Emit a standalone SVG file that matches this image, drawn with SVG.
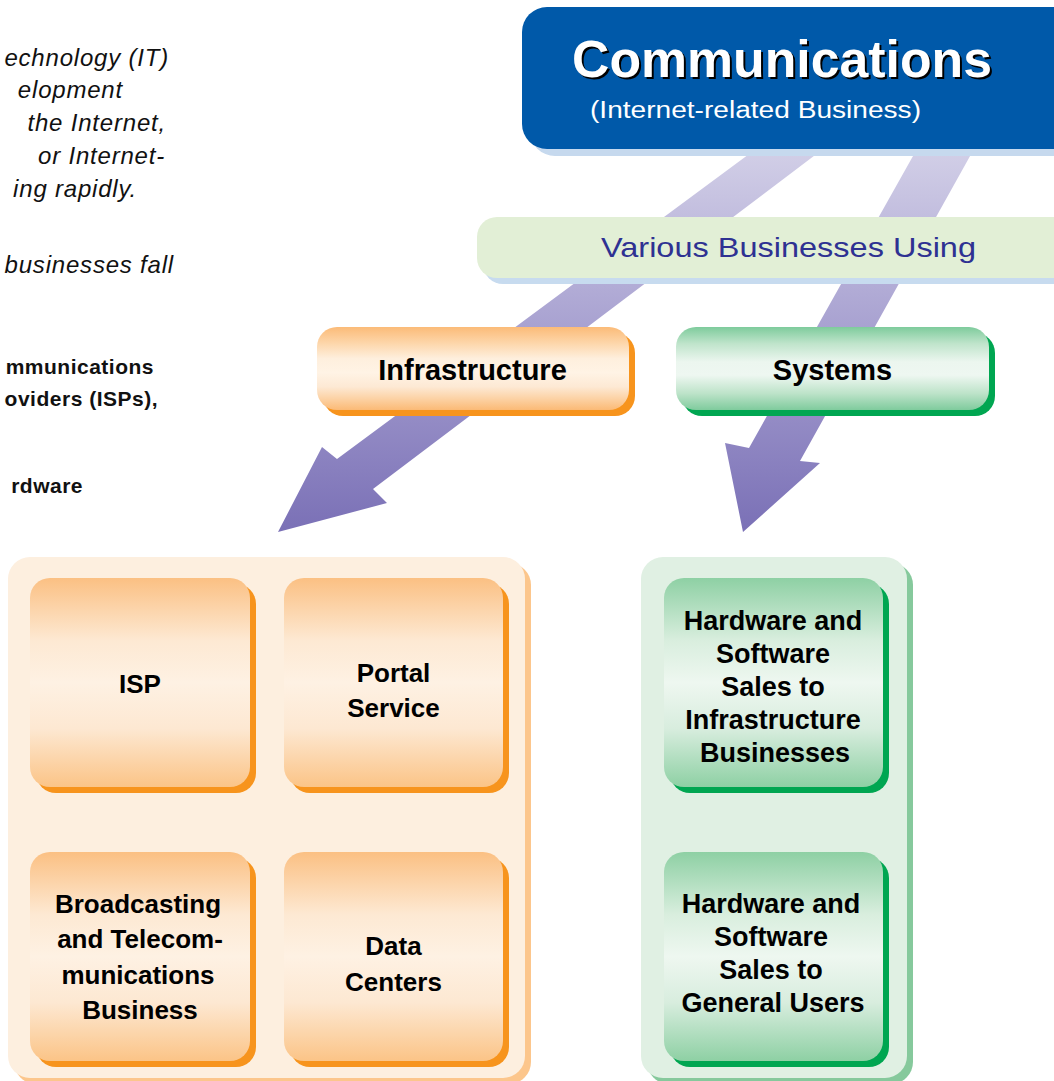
<svg xmlns="http://www.w3.org/2000/svg" width="1054" height="1081" viewBox="0 0 1054 1081">
  <defs>
    <linearGradient id="arrowFill" gradientUnits="userSpaceOnUse" x1="0" y1="150" x2="0" y2="532">
      <stop offset="0" stop-color="#d2cfe7"/>
      <stop offset="0.5" stop-color="#a59ecf"/>
      <stop offset="1" stop-color="#7a70b6"/>
    </linearGradient>
    <linearGradient id="orangeBar" x1="0" y1="0" x2="0" y2="1">
      <stop offset="0" stop-color="#fbbb78"/>
      <stop offset="0.18" stop-color="#fdd4a6"/>
      <stop offset="0.38" stop-color="#feefdd"/>
      <stop offset="0.55" stop-color="#fff3e5"/>
      <stop offset="0.72" stop-color="#fde9d4"/>
      <stop offset="0.88" stop-color="#fccf9f"/>
      <stop offset="1" stop-color="#fbba76"/>
    </linearGradient>
    <linearGradient id="greenBar" x1="0" y1="0" x2="0" y2="1">
      <stop offset="0" stop-color="#7ecb9c"/>
      <stop offset="0.2" stop-color="#bfe4cb"/>
      <stop offset="0.42" stop-color="#ecf6ef"/>
      <stop offset="0.58" stop-color="#eef7f1"/>
      <stop offset="0.8" stop-color="#bde3c9"/>
      <stop offset="1" stop-color="#7fcb9d"/>
    </linearGradient>
    <linearGradient id="orangeTile" x1="0" y1="0" x2="0" y2="1">
      <stop offset="0" stop-color="#fbc083"/>
      <stop offset="0.3" stop-color="#fde9d3"/>
      <stop offset="0.5" stop-color="#fef1e3"/>
      <stop offset="0.72" stop-color="#fde8d2"/>
      <stop offset="1" stop-color="#fbc487"/>
    </linearGradient>
    <linearGradient id="greenTile" x1="0" y1="0" x2="0" y2="1">
      <stop offset="0" stop-color="#8ed0a4"/>
      <stop offset="0.3" stop-color="#d9eede"/>
      <stop offset="0.5" stop-color="#eef7f0"/>
      <stop offset="0.72" stop-color="#d8edde"/>
      <stop offset="1" stop-color="#8ed0a4"/>
    </linearGradient>
  </defs>
  <style>
    .intro { font-family: "Liberation Sans", Arial, sans-serif; font-size: 24px; font-style: italic; fill: #111; letter-spacing: 0.8px; text-anchor: end; }
    .introB { font-family: "Liberation Sans", Arial, sans-serif; font-size: 21px; font-weight: bold; fill: #111; letter-spacing: 0.5px; text-anchor: end; }
    .lbl { font-family: "Liberation Sans", Arial, sans-serif; font-weight: bold; fill: #000; text-anchor: middle; }
    .head { font-size: 29px; }
    .tile { font-size: 26px; }
    .tileG { font-size: 27px; }
    .title { font-family: "Liberation Sans", Arial, sans-serif; font-weight: bold; font-size: 52px; text-anchor: middle; }
    .sub { font-family: "Liberation Sans", Arial, sans-serif; font-size: 23px; fill: #ffffff; text-anchor: middle; }
    .band { font-family: "Liberation Sans", Arial, sans-serif; font-size: 28px; fill: #2e3192; text-anchor: middle; }
    .oShadow { fill: #f7941d; }
    .gShadow { fill: #00a651; }
  </style>

  <rect width="1054" height="1081" fill="#ffffff"/>

  <!-- introductory paragraph, running off the left edge -->
  <g id="intro-text">
    <text class="intro" x="169" y="66">echnology (IT)</text>
    <text class="intro" x="123" y="98">elopment</text>
    <text class="intro" x="166" y="131">the Internet,</text>
    <text class="intro" x="165" y="164">or Internet-</text>
    <text class="intro" x="137" y="197">ing rapidly.</text>
    <text class="intro" x="174" y="273">businesses fall</text>
    <text class="introB" x="154" y="374">mmunications</text>
    <text class="introB" x="158" y="406">oviders (ISPs),</text>
    <text class="introB" x="83" y="493">rdware</text>
  </g>

  <!-- connectors: broad arrows from the top box down to each column -->
  <g id="connectors" fill="url(#arrowFill)">
    <polygon id="arrow-infrastructure" points="768,140 835,140 373,489 387,503 278,532 322,447 337,459"/>
    <polygon id="arrow-systems" points="922,140 979,140 800,461 820,463 743,532 725,443 749,448"/>
  </g>

  <!-- top box -->
  <g id="communications">
    <rect x="530" y="13" width="560" height="143" rx="25" fill="#c6d9ee"/>
    <rect x="522" y="7" width="560" height="142" rx="25" fill="#0059a9"/>
    <text class="title" x="784" y="79" fill="#000" textLength="420" lengthAdjust="spacingAndGlyphs">Communications</text>
    <text class="title" x="782" y="77" fill="#fff" textLength="420" lengthAdjust="spacingAndGlyphs">Communications</text>
    <text class="sub" x="755.5" y="118" textLength="331" lengthAdjust="spacingAndGlyphs">(Internet-related Business)</text>
  </g>

  <!-- band across the middle -->
  <g id="various-businesses">
    <rect x="483" y="223" width="600" height="61" rx="20" fill="#c7dbef"/>
    <rect x="477" y="217" width="600" height="61" rx="20" fill="#e2efd6"/>
    <text class="band" x="788.5" y="257" textLength="375" lengthAdjust="spacingAndGlyphs">Various Businesses Using</text>
  </g>

  <!-- column headings -->
  <g id="infrastructure">
    <rect class="oShadow" x="323" y="333" width="312" height="83" rx="20"/>
    <rect x="317" y="327" width="312" height="83" rx="20" fill="url(#orangeBar)"/>
    <text class="lbl head" x="472.5" y="380">Infrastructure</text>
  </g>
  <g id="systems">
    <rect class="gShadow" x="682" y="333" width="313" height="83" rx="20"/>
    <rect x="676" y="327" width="313" height="83" rx="20" fill="url(#greenBar)"/>
    <text class="lbl head" x="832.5" y="380">Systems</text>
  </g>

  <!-- infrastructure column -->
  <g id="infrastructure-panel">
    <rect x="14" y="563" width="517" height="521" rx="22" fill="#fcc68c"/>
    <rect x="8" y="557" width="517" height="521" rx="22" fill="#fdefdf"/>
  </g>
  <g id="isp">
    <rect class="oShadow" x="36" y="584" width="220" height="209" rx="20"/>
    <rect x="30" y="578" width="220" height="209" rx="20" fill="url(#orangeTile)"/>
    <text class="lbl tile" x="140" y="693">ISP</text>
  </g>
  <g id="portal-service">
    <rect class="oShadow" x="290" y="584" width="219" height="209" rx="20"/>
    <rect x="284" y="578" width="219" height="209" rx="20" fill="url(#orangeTile)"/>
    <text class="lbl tile" x="393.5" y="682">Portal</text>
    <text class="lbl tile" x="393.5" y="717">Service</text>
  </g>
  <g id="broadcasting">
    <rect class="oShadow" x="36" y="858" width="220" height="209" rx="20"/>
    <rect x="30" y="852" width="220" height="209" rx="20" fill="url(#orangeTile)"/>
    <text class="lbl tile" x="138" y="913">Broadcasting</text>
    <text class="lbl tile" x="140" y="948">and Telecom-</text>
    <text class="lbl tile" x="138" y="984">munications</text>
    <text class="lbl tile" x="140" y="1019">Business</text>
  </g>
  <g id="data-centers">
    <rect class="oShadow" x="290" y="858" width="219" height="209" rx="20"/>
    <rect x="284" y="852" width="219" height="209" rx="20" fill="url(#orangeTile)"/>
    <text class="lbl tile" x="393.5" y="955">Data</text>
    <text class="lbl tile" x="393.5" y="991">Centers</text>
  </g>

  <!-- systems column -->
  <g id="systems-panel">
    <rect x="647" y="563" width="266" height="521" rx="22" fill="#86c99c"/>
    <rect x="641" y="557" width="266" height="521" rx="22" fill="#e0f0e3"/>
  </g>
  <g id="sales-infrastructure">
    <rect class="gShadow" x="670" y="584" width="219" height="209" rx="20"/>
    <rect x="664" y="578" width="219" height="209" rx="20" fill="url(#greenTile)"/>
    <text class="lbl tileG" x="773" y="630">Hardware and</text>
    <text class="lbl tileG" x="773" y="663">Software</text>
    <text class="lbl tileG" x="773" y="696">Sales to</text>
    <text class="lbl tileG" x="773" y="729">Infrastructure</text>
    <text class="lbl tileG" x="775" y="762">Businesses</text>
  </g>
  <g id="sales-general">
    <rect class="gShadow" x="670" y="858" width="219" height="209" rx="20"/>
    <rect x="664" y="852" width="219" height="209" rx="20" fill="url(#greenTile)"/>
    <text class="lbl tileG" x="771" y="913">Hardware and</text>
    <text class="lbl tileG" x="771" y="946">Software</text>
    <text class="lbl tileG" x="771" y="979">Sales to</text>
    <text class="lbl tileG" x="773" y="1012">General Users</text>
  </g>
</svg>
